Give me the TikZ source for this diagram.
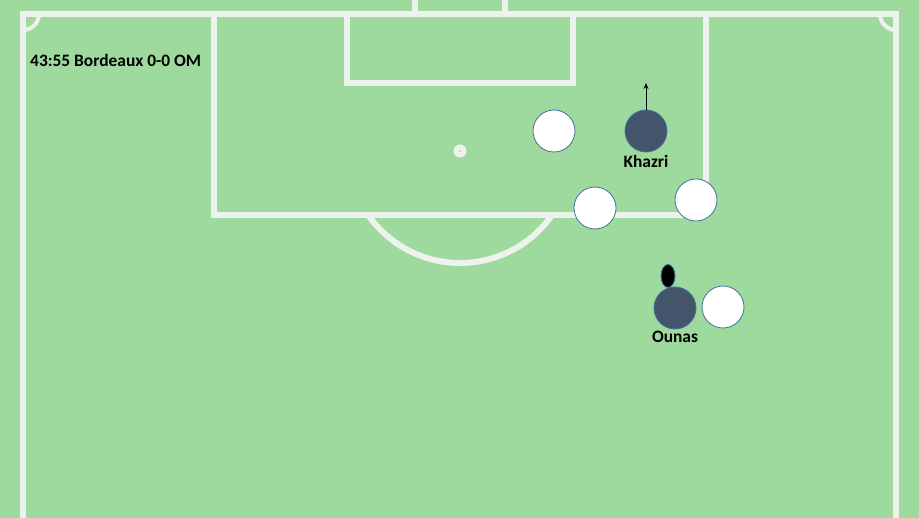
\documentclass[tikz,border=0pt]{standalone}
\usepackage{fontspec}
\setmainfont{Carlito}
\usetikzlibrary{arrows.meta,shapes.geometric}
\definecolor{pitch}{RGB}{158,218,158}
\definecolor{chalk}{RGB}{237,243,236}
\definecolor{rim}{RGB}{65,113,156}
\definecolor{omblue}{RGB}{68,84,106}
\begin{document}
\begin{tikzpicture}[x=1pt, y=-1pt,
    line/.style = {draw=chalk, line width=6pt},
    player/.style = {circle, draw=rim, line width=0.8pt, minimum size=42pt, inner sep=0pt},
    bdx/.style = {player, fill=white},
    om/.style = {player, fill=omblue},
    lbl/.style = {font=\fontsize{17.4}{20}\selectfont\bfseries, inner sep=0pt}]
  \fill[pitch] (0,0) rectangle (919,518);
  \useasboundingbox (0,0) rectangle (919,518);

  % Pitch markings
  \draw[line] (23,518) -- (23,14) -- (896,14) -- (896,518);
  \draw[line] (214,14) -- (214,215) -- (706,215) -- (706,14);
  \draw[line] (347,14) -- (347,83) -- (573,83) -- (573,14);
  \draw[line] (415,0) -- (415,14);
  \draw[line] (505,0) -- (505,14);
  \draw[line, line width=4pt] (23,30) arc[start angle=90, end angle=0, radius=16];
  \draw[line, line width=4pt] (880,14) arc[start angle=180, end angle=90, radius=16];
  \draw[line] (552,215) arc[start angle=34.85, end angle=145.15, radius=112];
  \fill[chalk] (460,151) circle[radius=6.5];
  \fill[pitch] (460,151) circle[radius=1];

  % Nodes with manual coordinates
  \node[lbl, anchor=west] (score) at (30,60) {43:55 Bordeaux 0-0 OM};
  \node[bdx] (b1) at (554,131) {};
  \node[bdx] (b2) at (595,208) {};
  \node[bdx] (b3) at (696,200) {};
  \node[bdx] (b4) at (723,307) {};
  \node[om] (khazri) at (646,131) {};
  \node[lbl] (khazrilbl) at (646,161) {Khazri};
  \node[om] (ounas) at (675,308) {};
  \node[lbl] (ounaslbl) at (675,337) {Ounas};
  \node[ellipse, fill=black, draw=rim, line width=0.8pt, minimum width=14pt, minimum height=23pt, inner sep=0pt] (ball) at (668,276) {};
  \coordinate (run) at (646,83);

  % Edges
  \draw[-{Stealth[length=6pt, width=5pt]}, line width=0.9pt] (khazri) -- (run);
\end{tikzpicture}
\end{document}
